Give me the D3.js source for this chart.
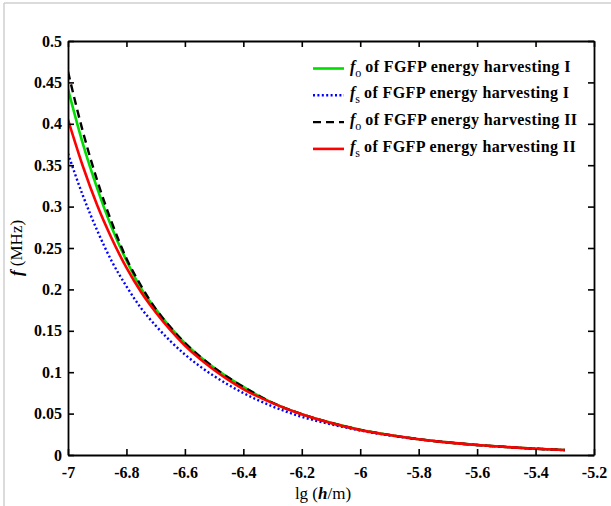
<!DOCTYPE html>
<html>
<head>
<meta charset="utf-8">
<script src="https://cdn.jsdelivr.net/npm/d3@7"></script>
<style>
  html, body { margin: 0; padding: 0; background: #fff; }
  svg { display: block; }
  text { font-family: "Liberation Serif", "Times New Roman", serif; }
</style>
</head>
<body>
<svg id="chart" width="611" height="506"></svg>
<script>
// lg(h/m) sample points
const lgH = [-7, -6.95, -6.9, -6.85, -6.8, -6.75, -6.7, -6.65, -6.6, -6.55, -6.5, -6.45,
             -6.4, -6.3, -6.2, -6.1, -6.0, -5.9, -5.8, -5.7, -5.6, -5.5, -5.4, -5.3];

// frequencies in MHz
const foI  = [0.442, 0.377, 0.322, 0.2744, 0.2349, 0.2011, 0.1762, 0.1543, 0.1352, 0.1193, 0.1054, 0.0931,
              0.0822, 0.0630, 0.0493, 0.0388, 0.0304, 0.0241, 0.0191, 0.0152, 0.0121, 0.0096, 0.0076, 0.0060];
const fsI  = [0.364, 0.3142, 0.2711, 0.2338, 0.2037, 0.1774, 0.1563, 0.1377, 0.1214, 0.1075, 0.0953, 0.0845,
              0.0748, 0.0587, 0.0461, 0.0372, 0.0296, 0.0237, 0.0189, 0.0151, 0.0120, 0.0096, 0.0076, 0.0059];
const foII = [0.463, 0.3918, 0.3316, 0.2806, 0.2374, 0.2044, 0.1765, 0.1545, 0.1354, 0.1194, 0.1055, 0.0932,
              0.0823, 0.0631, 0.0493, 0.0388, 0.0304, 0.0241, 0.0191, 0.0152, 0.0121, 0.0096, 0.0076, 0.0060];
const fsII = [0.405, 0.3496, 0.3016, 0.2612, 0.2262, 0.1968, 0.1724, 0.1510, 0.1323, 0.1165, 0.1027, 0.0905,
              0.0797, 0.0626, 0.0491, 0.0386, 0.0303, 0.0241, 0.0191, 0.0152, 0.0121, 0.0096, 0.0076, 0.0060];

const xTicks = [-7, -6.8, -6.6, -6.4, -6.2, -6, -5.8, -5.6, -5.4, -5.2];
const yTicks = [0, 0.05, 0.1, 0.15, 0.2, 0.25, 0.3, 0.35, 0.4, 0.45, 0.5];

const series = [
  { sub: "o", label: "of FGFP energy harvesting I",  values: foI,  color: "#00dd00", dash: null,    width: 2.6 },
  { sub: "s", label: "of FGFP energy harvesting I",  values: fsI,  color: "#0000ff", dash: "2,2.4", width: 2.4 },
  { sub: "o", label: "of FGFP energy harvesting II", values: foII, color: "#000000", dash: "8,5",   width: 2.4 },
  { sub: "s", label: "of FGFP energy harvesting II", values: fsII, color: "#ff0000", dash: null,    width: 2.6 }
];

const svg = d3.select("#chart");
const L = 68, R = 594, T = 41, B = 455;

const x = d3.scaleLinear().domain([-7, -5.2]).range([L, R]);
const y = d3.scaleLinear().domain([0, 0.5]).range([B, T]);

// light frame around the figure
svg.append("line").attr("x1", 4).attr("x2", 4).attr("y1", 3).attr("y2", 506)
  .attr("stroke", "#cfcfcf").attr("stroke-width", 1.5);
svg.append("line").attr("x1", 4).attr("x2", 611).attr("y1", 3).attr("y2", 3)
  .attr("stroke", "#cfcfcf").attr("stroke-width", 1.5);

// curves
svg.append("clipPath").attr("id", "plotclip")
  .append("rect").attr("x", L).attr("y", T).attr("width", R - L).attr("height", B - T);

const plot = svg.append("g").attr("clip-path", "url(#plotclip)");
const line = d3.line().x((d, i) => x(lgH[i])).y(d => y(d)).curve(d3.curveMonotoneX);

series.forEach(s => {
  plot.append("path")
    .attr("d", line(s.values))
    .attr("fill", "none")
    .attr("stroke", s.color)
    .attr("stroke-width", s.width)
    .attr("stroke-dasharray", s.dash);
});

// axes (box with inward ticks)
const fmt = d => String(d).replace("\u2212", "-");
const axStyle = g => {
  g.select(".domain").attr("stroke", "#000").attr("stroke-width", 1.8);
  g.selectAll(".tick line").attr("stroke", "#000").attr("stroke-width", 1.6);
  g.selectAll(".tick text").attr("font-weight", "bold").attr("font-size", 16).attr("fill", "#000");
};

svg.append("g").attr("transform", `translate(0,${B})`)
  .call(d3.axisBottom(x).tickValues(xTicks).tickFormat(fmt).tickSizeInner(-6).tickSizeOuter(0).tickPadding(12))
  .call(axStyle);
svg.append("g").attr("transform", `translate(0,${T})`)
  .call(d3.axisTop(x).tickValues(xTicks).tickFormat("").tickSizeInner(-6).tickSizeOuter(0))
  .call(axStyle);
svg.append("g").attr("transform", `translate(${L},0)`)
  .call(d3.axisLeft(y).tickValues(yTicks).tickFormat(fmt).tickSizeInner(-6).tickSizeOuter(0).tickPadding(6))
  .call(axStyle);
svg.append("g").attr("transform", `translate(${R},0)`)
  .call(d3.axisRight(y).tickValues(yTicks).tickFormat("").tickSizeInner(-6).tickSizeOuter(0))
  .call(axStyle);

// axis titles
const xt = svg.append("text").attr("x", (L + R) / 2 - 8).attr("y", 499)
  .attr("text-anchor", "middle").attr("font-size", 17).attr("fill", "#000");
xt.append("tspan").text("lg (");
xt.append("tspan").attr("font-style", "italic").attr("font-weight", "bold").text("h");
xt.append("tspan").text("/m)");

const yt = svg.append("text").attr("transform", `translate(22,${(T + B) / 2}) rotate(-90)`)
  .attr("text-anchor", "middle").attr("font-size", 17).attr("fill", "#000");
yt.append("tspan").attr("font-style", "italic").attr("font-weight", "bold").text("f");
yt.append("tspan").text(" (MHz)");

// legend
const lg = svg.append("g");
series.forEach((s, i) => {
  const ly = 68.5 + i * 26.8;
  lg.append("line").attr("x1", 313).attr("x2", 344).attr("y1", ly).attr("y2", ly)
    .attr("stroke", s.color).attr("stroke-width", s.width).attr("stroke-dasharray", s.dash);
  const t = lg.append("text").attr("x", 350).attr("y", ly + 3)
    .attr("font-size", 16).attr("font-weight", "bold").attr("fill", "#000");
  t.append("tspan").attr("font-style", "italic").text("f");
  t.append("tspan").attr("font-size", 12).attr("font-weight", "normal").attr("dy", 5).text(s.sub);
  t.append("tspan").attr("dy", -5).attr("dx", 4).attr("letter-spacing", 0.4).text(s.label);
});
</script>
</body>
</html>
